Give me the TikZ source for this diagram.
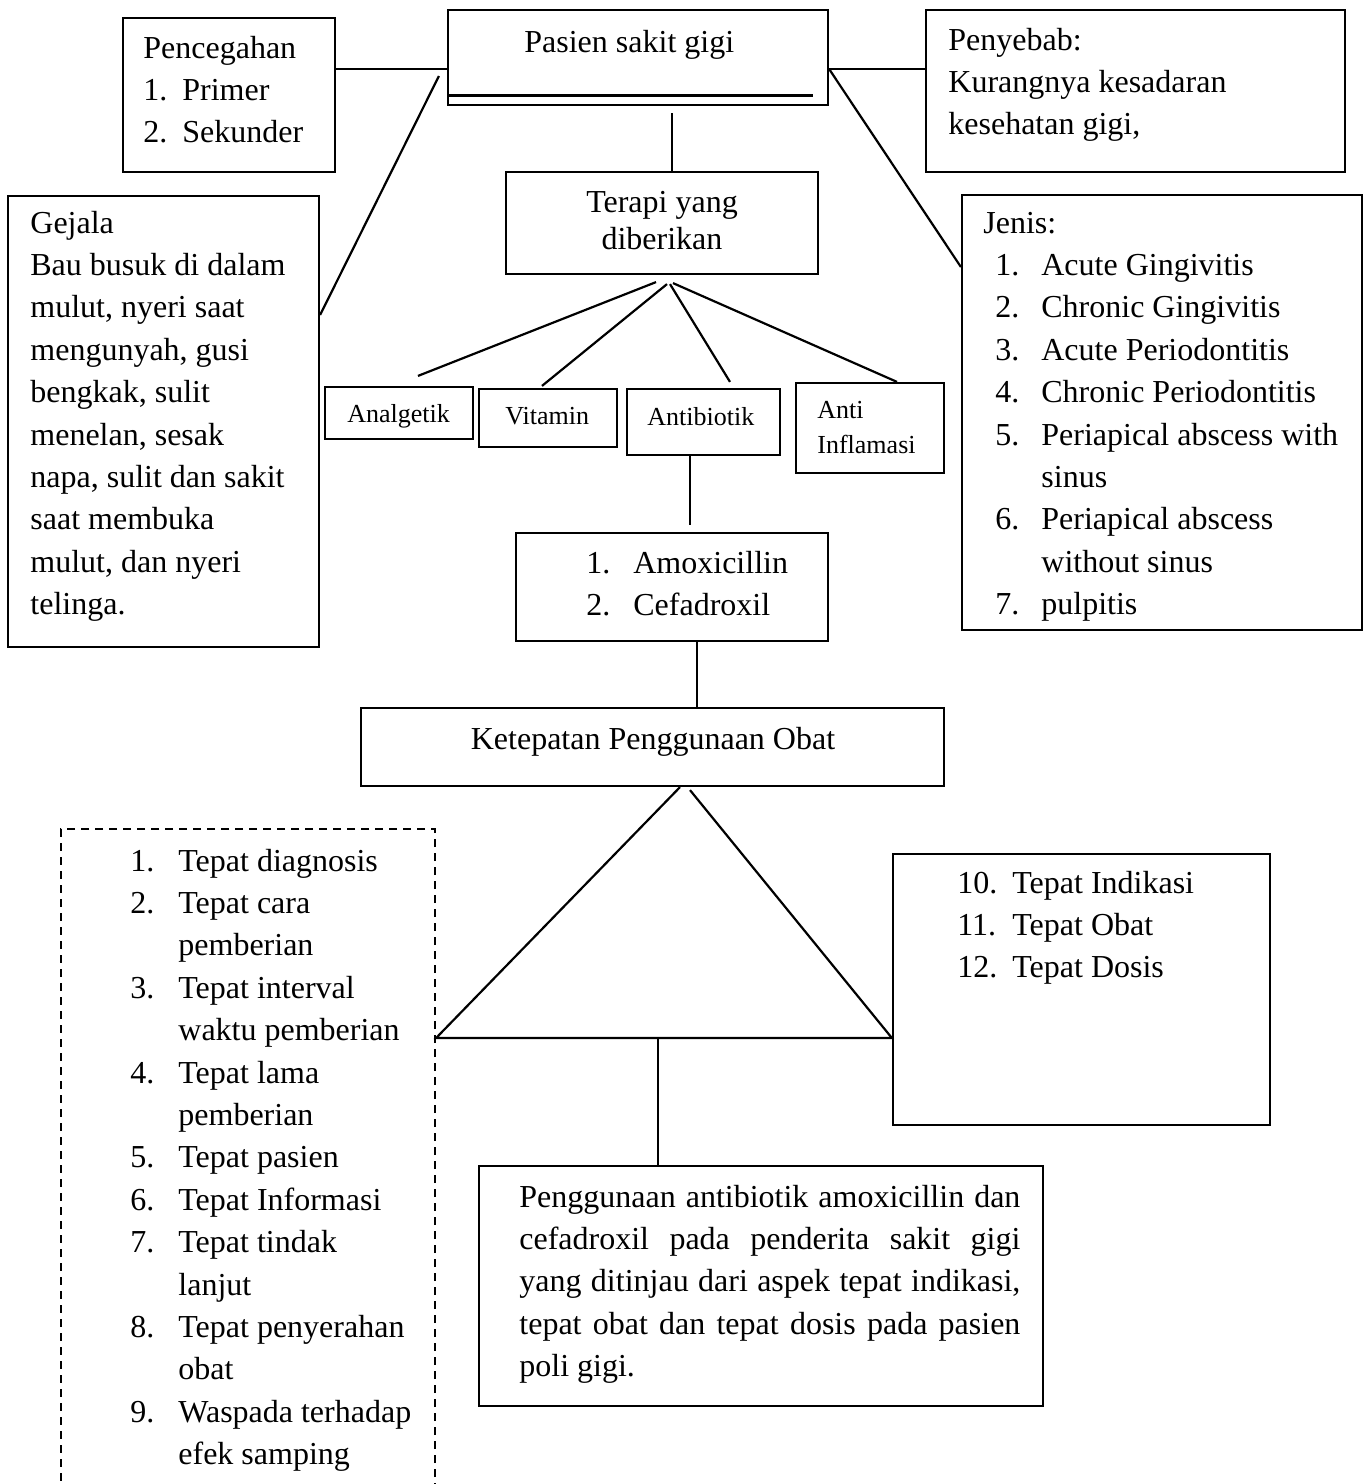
\documentclass[tikz,border=0pt]{standalone}
\usepackage{fontspec}
\setmainfont{Liberation Serif}
\usepackage{tikz}
\usetikzlibrary{positioning,calc,fit}
\newcommand{\fsmain}{\fontsize{16}{21.2}\selectfont}
\newcommand{\fsmid}{\fontsize{16}{18.5}\selectfont}
\newcommand{\fssmall}{\fontsize{13}{17.5}\selectfont}

\begin{document}
\begin{tikzpicture}[x=0.5pt, y=-0.5pt,
    box/.style={draw, line width=1.1pt, inner sep=0pt},
    dashbox/.style={box, dash pattern=on 4pt off 3pt},
    txt/.style={inner sep=0pt, anchor=base west, font=\fsmain},
    ctxt/.style={txt, anchor=base},
    stxt/.style={txt, font=\fssmall},
    link/.style={line width=1.1pt}]
    \path[use as bounding box, fill=white] (0,0) rectangle (1367,1484);

    \node[box, fit={(448,10) (828,105)}] (pasien) {};
    \node[box, fit={(123,18) (335,172)}] (penceg) {};
    \node[box, fit={(926,10) (1345,172)}] (sebab) {};
    \node[box, fit={(8,196) (319,647)}] (gejala) {};
    \node[box, fit={(506,172) (818,274)}] (terapi) {};
    \node[box, fit={(962,195) (1362,630)}] (jenis) {};
    \node[box, fit={(325,387) (473,439)}] (analg) {};
    \node[box, fit={(479,389) (617,447)}] (vit) {};
    \node[box, fit={(627,389) (780,455)}] (antib) {};
    \node[box, fit={(796,383) (944,473)}] (inflam) {};
    \node[box, fit={(516,533) (828,641)}] (obat) {};
    \node[box, fit={(361,708) (944,786)}] (ketepatan) {};
    \node[dashbox, fit={(61,829) (435,1495)}] (tepat) {};
    \node[box, fit={(893,854) (1270,1125)}] (utama) {};
    \node[box, fit={(479,1166) (1043,1406)}] (tujuan) {};

    \draw[line width=1.4pt] ([shift={(1,-11)}]pasien.south west) -- ([shift={(-16,-11)}]pasien.south east);

    \node[txt] (pasien-t) at (524,52) {Pasien sakit gigi};
    \node[txt] (penceg-t) at (143,58) {\begin{tabular}[t]{@{}p{19.5pt}@{}l@{}}
        \multicolumn{2}{@{}l@{}}{Pencegahan}\\
        1. & Primer\\
        2. & Sekunder
    \end{tabular}};
    \node[txt] (sebab-t) at (948,50) {\begin{tabular}[t]{@{}l@{}}
        Penyebab:\\
        Kurangnya kesadaran\\
        kesehatan gigi,
    \end{tabular}};
    \node[txt] (gejala-t) at (30,233) {\begin{tabular}[t]{@{}l@{}}
        Gejala\\
        Bau busuk di dalam\\
        mulut, nyeri saat\\
        mengunyah, gusi\\
        bengkak, sulit\\
        menelan, sesak\\
        napa, sulit dan sakit\\
        saat membuka\\
        mulut, dan nyeri\\
        telinga.
    \end{tabular}};
    \node[ctxt, font=\fsmid] (terapi-t) at (662,212) {\begin{tabular}[t]{@{}c@{}}
        Terapi yang\\
        diberikan
    \end{tabular}};
    \node[txt] (jenis-t) at (983,233) {\begin{tabular}[t]{@{\hspace{6pt}}p{23pt}@{}l@{}}
        \multicolumn{2}{@{}l@{}}{Jenis:}\\
        1. & Acute Gingivitis\\
        2. & Chronic Gingivitis\\
        3. & Acute Periodontitis\\
        4. & Chronic Periodontitis\\
        5. & Periapical abscess with\\
           & sinus\\
        6. & Periapical abscess\\
           & without sinus\\
        7. & pulpitis
    \end{tabular}};

    \node[stxt] (analg-t) at (347,422) {Analgetik};
    \node[stxt] (vit-t) at (505,424) {Vitamin};
    \node[stxt] (antib-t) at (647,425) {Antibiotik};
    \node[stxt] (inflam-t) at (817,418) {\begin{tabular}[t]{@{}l@{}}
        Anti\\
        Inflamasi
    \end{tabular}};

    \node[txt] (obat-t) at (586,573) {\begin{tabular}[t]{@{}p{23.5pt}@{}l@{}}
        1. & Amoxicillin\\
        2. & Cefadroxil
    \end{tabular}};
    \node[ctxt] (ketepatan-t) at (653,749) {Ketepatan Penggunaan Obat};

    \node[txt] (tepat-t) at (130,871) {\begin{tabular}[t]{@{}p{24pt}@{}l@{}}
        1. & Tepat diagnosis\\
        2. & Tepat cara\\
           & pemberian\\
        3. & Tepat interval\\
           & waktu pemberian\\
        4. & Tepat lama\\
           & pemberian\\
        5. & Tepat pasien\\
        6. & Tepat Informasi\\
        7. & Tepat tindak\\
           & lanjut\\
        8. & Tepat penyerahan\\
           & obat\\
        9. & Waspada terhadap\\
           & efek samping
    \end{tabular}};
    \node[txt] (utama-t) at (957,893) {\begin{tabular}[t]{@{}p{27.5pt}@{}l@{}}
        10. & Tepat Indikasi\\
        11. & Tepat Obat\\
        12. & Tepat Dosis
    \end{tabular}};
    \node[txt] (tujuan-t) at (519,1207) {\begin{tabular}[t]{@{}l@{}}
        \makebox[250.5pt][s]{Penggunaan antibiotik amoxicillin dan}\\
        \makebox[250.5pt][s]{cefadroxil pada penderita sakit gigi}\\
        \makebox[250.5pt][s]{yang ditinjau dari aspek tepat indikasi,}\\
        \makebox[250.5pt][s]{tepat obat dan tepat dosis pada pasien}\\
        poli gigi.
    \end{tabular}};

    \draw[link] (penceg.east |- 0,69) -- (pasien.west |- 0,69);
    \draw[link] ([shift={(-8,18.5)}]pasien.west) -- (gejala.east |- 0,315);
    \draw[link] (pasien.east |- 0,69) -- (sebab.west |- 0,69);
    \draw[link] (pasien.east |- 0,69) -- (jenis.west |- 0,267);
    \draw[link] ([xshift=5pt]terapi.north) -- ++(0,-58);

    \draw[link] ([shift={(-6,7)}]terapi.south) -- ([shift={(19,-10)}]analg.north);
    \draw[link] ([shift={(5,9)}]terapi.south) -- ([shift={(-6,-2)}]vit.north);
    \draw[link] ([shift={(8,9)}]terapi.south) -- ([shift={(26.5,-6)}]antib.north);
    \draw[link] ([shift={(11,8)}]terapi.south) -- ([shift={(27,0)}]inflam.north);

    \draw[link] ([xshift=-6.75pt]antib.south) -- ++(0,69);
    \draw[link] ([xshift=12.5pt]obat.south) -- ([xshift=12.5pt]obat.south |- ketepatan.north);

    \coordinate (puncak-kiri) at ([xshift=13.75pt]ketepatan.south);
    \coordinate (puncak-kanan) at ([shift={(37.5,3)}]ketepatan.south);
    \coordinate (alas-kiri) at (tepat.east |- 0,1038);
    \coordinate (alas-kanan) at (utama.west |- 0,1038);
    \draw[link] (puncak-kiri) -- (alas-kiri) -- (alas-kanan) -- (puncak-kanan);
    \coordinate (alas) at (658,1038);
    \draw[link] (alas) -- (alas |- tujuan.north);
\end{tikzpicture}
\end{document}
